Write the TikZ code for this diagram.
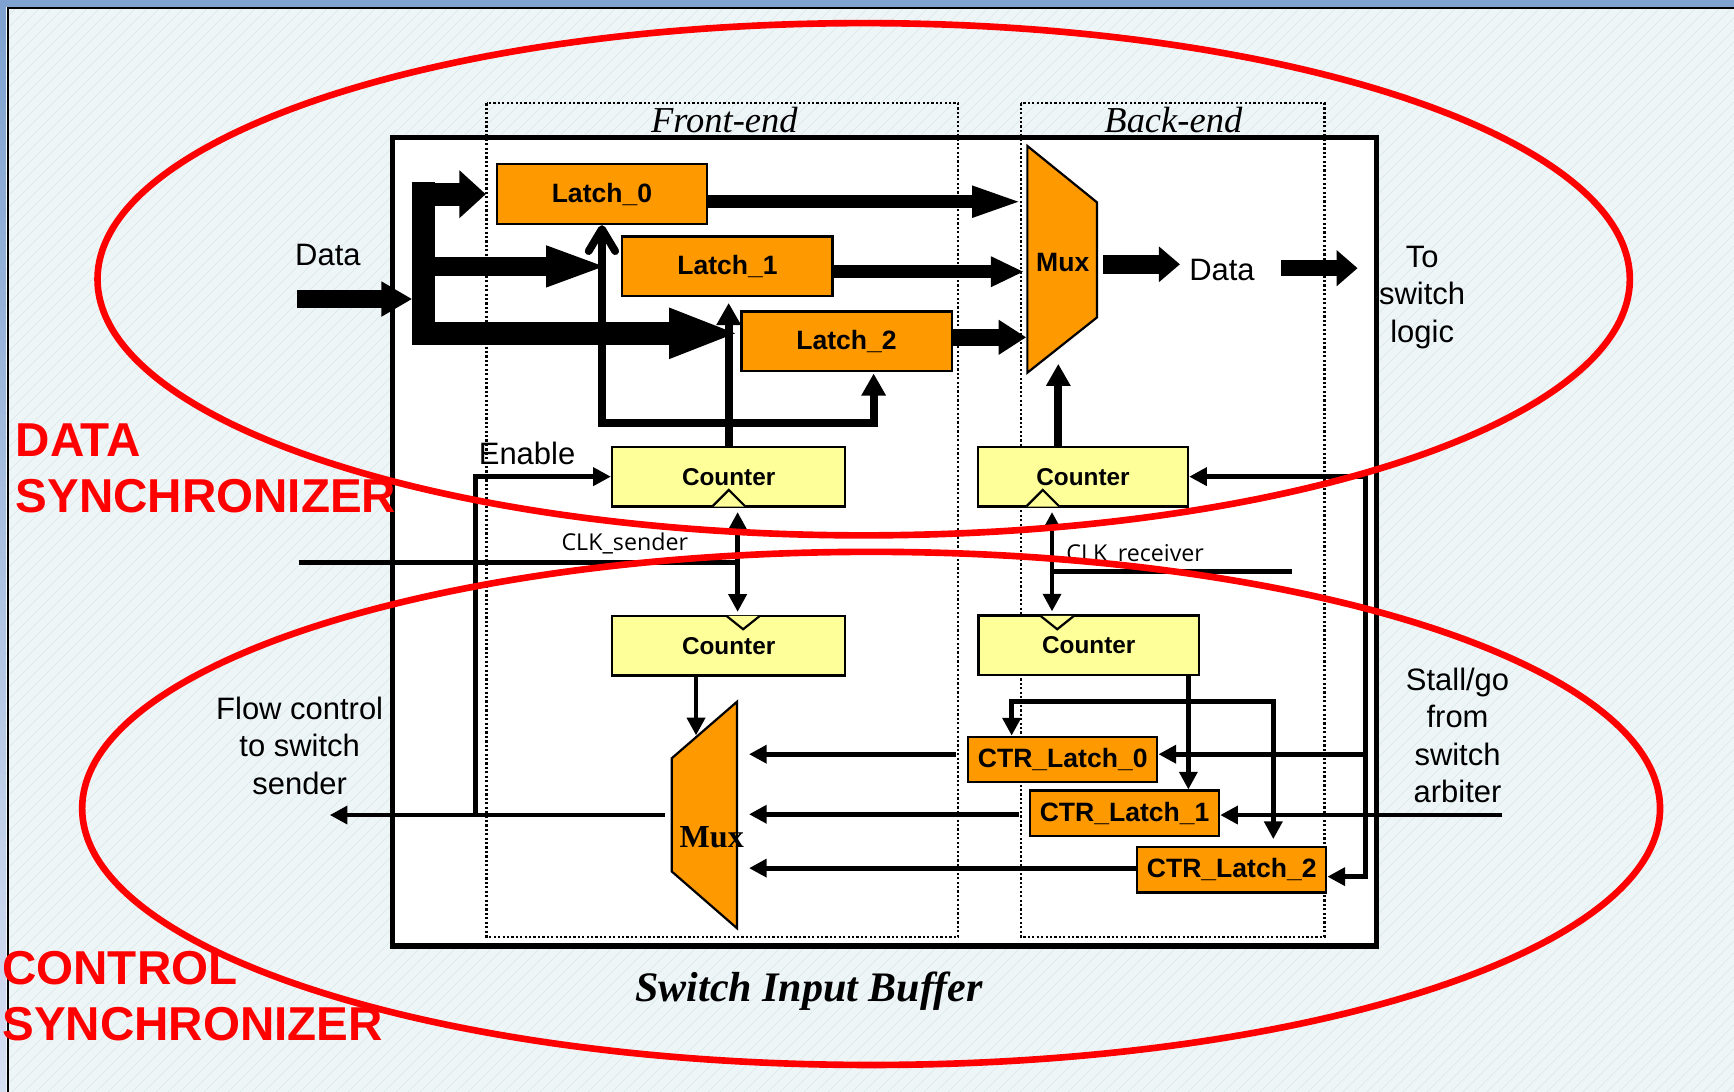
\documentclass[tikz,border=0pt]{standalone}
\usepackage{fontspec}
\setmainfont{Liberation Sans}
\newfontfamily\timesfont{Liberation Serif}
\newfontfamily\clkfont{Open Sans}
\usepackage{xcolor}
\usepackage{tikz}
\usetikzlibrary{arrows.meta, positioning, patterns.meta}
\definecolor{LatchOrange}{HTML}{FF9900}
\definecolor{CounterYellow}{HTML}{FFFF99}
\definecolor{SyncRed}{HTML}{FF0000}
\definecolor{BgPale}{HTML}{EEF5F7}
\definecolor{BgHatch}{HTML}{DAE7EB}
\definecolor{FrameBlue}{HTML}{7FA2D0}
\definecolor{FrameBlueLight}{HTML}{D6DEF2}

\begin{document}
\begin{tikzpicture}[
    x=0.5pt, y=-0.5pt,
    latch/.style={rectangle, draw=black, line width=1pt, fill=LatchOrange,
      minimum width=95pt, minimum height=27pt, inner sep=0pt,
      font=\fontsize{12}{14}\selectfont\bfseries},
    ctrlatch/.style={latch, minimum width=85.5pt, minimum height=20.6pt},
    counter/.style={rectangle, draw=black, line width=1pt, fill=CounterYellow,
      minimum width=105.5pt, minimum height=27pt, inner sep=0pt,
      font=\fontsize{11}{13}\selectfont\bfseries},
    lbl/.style={align=center, inner sep=0pt, font=\fontsize{14}{17}\selectfont},
    clklbl/.style={inner sep=0pt, font=\clkfont\fontsize{10.5}{12}\selectfont},
    stagelbl/.style={inner sep=0pt, font=\timesfont\itshape\fontsize{16.5}{18}\selectfont},
    synclbl/.style={align=left, anchor=west, inner sep=0pt, text=SyncRed,
      font=\fontsize{21.5}{25.5}\selectfont\bfseries},
    stage/.style={draw, line width=1pt, dash pattern=on 1pt off 1pt},
    wire/.style={line width=2.2pt, -{Triangle[length=8pt,width=8pt]}},
    wire2/.style={wire, {Triangle[length=8pt,width=8pt]}-{Triangle[length=8pt,width=8pt]}},
    fbline/.style={line width=3.5pt, -{Triangle[length=10pt,width=10.5pt]}},
    muxshape/.style={draw=black, line width=1pt, fill=LatchOrange},
    sync/.style={draw=SyncRed, line width=3pt}
  ]
    \useasboundingbox (0,0) rectangle (1568,987);

    % slide background
    \fill[BgPale] (0,0) rectangle (1568,987);
    \fill[pattern={Lines[angle=45,distance=4pt,line width=0.4pt]}, pattern color=BgHatch]
      (0,0) rectangle (1568,987);
    \fill[FrameBlue] (0,0) rectangle (1568,6.6);
    \shade[top color=FrameBlue, bottom color=FrameBlueLight] (0,6.6) rectangle (5.2,987);
    \draw[line width=1pt] (7,987) -- (7,7.5) -- (1568,7.5);

    \node[draw, line width=2.4pt, fill=white, minimum width=445pt, minimum height=365.6pt,
      inner sep=0pt] (sib) at (800,489.8) {};
    \node[inner sep=0pt, font=\timesfont\bfseries\itshape\fontsize{19}{22}\selectfont]
      (sibLbl) at (731.5,896) {Switch Input Buffer};

    \draw[stage] (440,93.4) rectangle (866.5,847);
    \draw[stage] (923,93.4) rectangle (1197.6,847);
    \node[stagelbl] (feLbl) at (655,108.5) {Front-end};
    \node[stagelbl] (beLbl) at (1061,108.5) {Back-end};

    \node[latch] (latch0) at (544.3,175.6) {Latch\_0};
    \node[latch] (latch1) at (657.8,240.9) {Latch\_1};
    \node[latch] (latch2) at (765.5,308.7) {Latch\_2};

    \node[counter] (cntFT) at (658.9,431) {Counter};
    \node[counter] (cntFB) at (658.9,583.9) {Counter};
    \node[counter, minimum width=95pt] (cntBT) at (979.3,431) {Counter};
    \node[counter, minimum width=99.75pt] (cntBB) at (984.5,583.5) {Counter};

    \node[ctrlatch] (ctr0) at (961,686.8) {CTR\_Latch\_0};
    \node[ctrlatch] (ctr1) at (1016.9,735.5) {CTR\_Latch\_1};
    \node[ctrlatch] (ctr2) at (1113.8,786.4) {CTR\_Latch\_2};

    % clock marks
    \filldraw[fill=CounterYellow, line width=1pt] (644,458) -- (659,443) -- (674,458);
    \filldraw[fill=CounterYellow, line width=1pt] (657,557) -- (672,569) -- (687,557);
    \filldraw[fill=CounterYellow, line width=1pt] (928,458) -- (943,443) -- (958,458);
    \filldraw[fill=CounterYellow, line width=1pt] (941,557) -- (956,569) -- (971,557);

    \filldraw[muxshape] (929,132) -- (992,183) -- (992,287) -- (929,337) -- cycle;
    \node[inner sep=0pt, font=\fontsize{12}{14}\selectfont\bfseries] (muxD) at (961,237) {Mux};
    \filldraw[muxshape] (607.4,685.7) -- (666.5,634.5) -- (666.5,839.4) -- (607.4,788) -- cycle;
    \node[inner sep=0pt, font=\timesfont\bfseries\fontsize{14.5}{16}\selectfont] (muxC) at (643.6,757) {Mux};

    \coordinate (dataIn) at (268.5,270.4);
    \coordinate (busL) at (372.8,270.4);
    \coordinate (busTop) at (383,165);
    \coordinate (busBot) at (383,312);
    \coordinate (l2tip) at (669,301.4);
    \coordinate (l0in) at (926,182.4);
    \coordinate (l1in) at (926,245.7);
    \coordinate (l2in) at (928,305);
    \coordinate (muxOut) at (997.6,239);
    \coordinate (dataOut) at (1067,239);
    \coordinate (toLogicA) at (1158.5,242.5);
    \coordinate (toLogicB) at (1227.6,242.5);

    % data path
    \node[lbl] (dataLbl) at (296.5,231) {Data};
    \draw[line width=8pt, -{Triangle[length=14pt,width=15pt]}] (dataIn) -- (busL);
    \draw[line width=10.3pt] (busTop) -- (busBot);
    \draw[line width=10.5pt, -{Triangle[length=12pt,width=21pt]}, shorten >=4.5pt]
      (busTop |- latch0.west) -- (latch0.west);
    \draw[line width=8.5pt, -{Triangle[length=28.5pt,width=16.5pt]}, shorten >=5.5pt]
      (busTop |- latch1.west) -- (latch1.west);
    \draw[line width=10.5pt, -{Triangle[length=32pt,width=20.5pt]}] (busTop |- l2tip) -- (l2tip);
    \draw[line width=6pt, -{Triangle[length=23.5pt,width=12.5pt]}] (latch0.east |- l0in) -- (l0in);
    \draw[line width=6pt, -{Triangle[length=15pt,width=12.8pt]}] (latch1.east |- l1in) -- (l1in);
    \draw[line width=7.5pt, -{Triangle[length=12.5pt,width=15pt]}] (latch2.east |- l2in) -- (l2in);
    \draw[line width=8.5pt, -{Triangle[length=9.5pt,width=15.5pt]}] (muxOut) -- (dataOut);
    \node[lbl] (dataLbl2) at (1105,244) {Data};
    \draw[line width=7.5pt, -{Triangle[length=9.5pt,width=15.8pt]}] (toLogicA) -- (toLogicB);
    \node[lbl] (logicLbl) at (1286,269) {To\\switch\\logic};

    % latch enables
    \coordinate (enJ) at (658,382.6);
    \coordinate (enR) at (790,382.6);
    \coordinate (muxSel) at (957,329);
    \draw[fbline, shorten >=2.5pt] (cntFT.north) -- (cntFT.north |- latch1.south);
    \draw[fbline, -{Straight Barb[length=10pt,width=12pt,round]}] (enJ) -| (latch0.south);
    \draw[fbline, shorten >=0.5pt] (enJ) -- (enR) -- (enR |- latch2.south);
    \draw[fbline] (cntBT.north -| muxSel) -- (muxSel);

    % clocks
    \coordinate (clkS) at (270,509);
    \coordinate (clkSj) at (667,509);
    \coordinate (clkR) at (1168.4,517);
    \coordinate (clkRj) at (951.3,517);
    \draw[wire, -] (clkS) -- (clkSj);
    \draw[wire2, shorten <=2pt, shorten >=1.3pt] (cntFT.south -| clkSj) -- (cntFB.north -| clkSj);
    \node[clklbl] (clkSLbl) at (565,491.3) {CLK\_sender};
    \draw[wire, -] (clkRj) -- (clkR);
    \draw[wire2, shorten <=2pt, shorten >=1.3pt] (cntBT.south -| clkRj) -- (cntBB.north -| clkRj);
    \node[clklbl] (clkRLbl) at (1026.5,502) {CLK\_receiver};

    % control path
    \coordinate (mux2Sel) at (629.4,665);
    \coordinate (m2in0) at (677.3,682);
    \coordinate (m2in1) at (677.3,736.3);
    \coordinate (m2in2) at (677.3,785);
    \coordinate (mux2Out) at (601,737);
    \coordinate (flowOut) at (298.2,737);
    \coordinate (enTap) at (430,737);
    \draw[wire] (cntFB.south -| mux2Sel) -- (mux2Sel);
    \draw[wire, shorten <=5pt] (ctr0.west |- m2in0) -- (m2in0);
    \draw[wire, shorten <=4.7pt] (ctr1.west |- m2in1) -- (m2in1);
    \draw[wire] (ctr2.west |- m2in2) -- (m2in2);
    \draw[wire] (mux2Out) -- (flowOut);
    \draw[wire] (enTap) |- (cntFT.west);
    \node[lbl] (flowLbl) at (271,674.4) {Flow control\\to switch\\sender};
    \node[lbl] (enLbl) at (476.6,409.8) {Enable};

    \coordinate (stallIn) at (1358.5,737);
    \coordinate (stTop) at (1235,431);
    \coordinate (stBot) at (1235,792.7);
    \coordinate (cbJ) at (1074.6,634.5);
    \coordinate (cbL) at (914.8,634.5);
    \coordinate (cbR) at (1151.4,634.5);
    \draw[wire] (stallIn) -- (stallIn -| ctr1.east);
    \draw[wire2] (cntBT.east) -- (stTop) -- (stBot) -- (stBot -| ctr2.east);
    \draw[wire] (stTop |- m2in0) -- (ctr0.east |- m2in0);
    \draw[wire] (cntBB.south -| cbJ) -- (cbJ |- ctr1.north);
    \draw[wire2, shorten >=3pt] (cbL |- ctr0.north) -- (cbL) -- (cbR) -- (cbR |- ctr2.north);
    \node[lbl] (stallLbl) at (1318,665) {Stall/go\\from\\switch\\arbiter};

    % synchronizer outlines
    \draw[sync] (781,252.5) ellipse [x radius=346.4pt, y radius=115.8pt];
    \draw[sync] (787.7,731) ellipse [x radius=356.7pt, y radius=116pt];
    \node[synclbl] (dataSync) at (13.8,423.3) {DATA\\SYNCHRONIZER};
    \node[synclbl] (ctrlSync) at (1.7,901) {CONTROL\\SYNCHRONIZER};
  \end{tikzpicture}
\end{document}
